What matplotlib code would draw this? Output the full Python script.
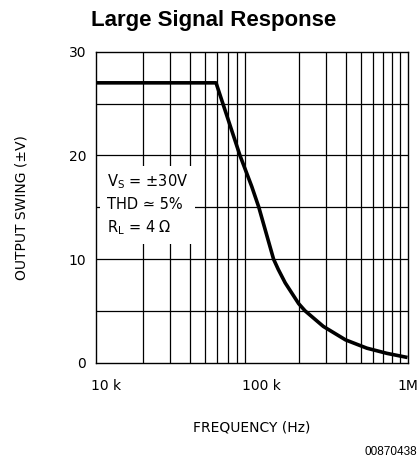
from matplotlib import pyplot as plt
import matplotlib.transforms as mtransforms

# curve
freq = [10e3, 59e3, 84e3, 100e3, 111e3, 138e3, 148e3, 164e3, 200e3, 220e3,
        288e3, 400e3, 548e3, 737e3, 1e6]
swing = [27.0, 27.0, 20.0, 17.0, 15.0, 10.0, 9.0, 7.7, 5.7, 5.0,
         3.5, 2.2, 1.4, 0.9, 0.5]

xticks = [1e4, 1e5, 1e6]
xticklabels = ['10 k', '100 k', '1M']
yticks = [0, 10, 20, 30]
ygrid = [5, 10, 15, 20, 25]

fig = plt.figure(figsize=(4.19, 4.62), dpi=100)
ax = fig.add_axes([0.229, 0.215, 0.7436, 0.673])

ax.set_xscale('log')
ax.set_xlim(1e4, 1e6)
ax.set_ylim(0, 30)

# grid: every minor decade line and every 5 V
minors = [m * 10**d for d in (4, 5) for m in range(2, 10)]
for f in minors:
    ax.axvline(f, color='black', lw=0.9, zorder=1)
for v in ygrid:
    ax.axhline(v, color='black', lw=0.9, zorder=1)

ax.plot(freq, swing, color='black', lw=2.6, solid_capstyle='butt', zorder=3)

for s in ax.spines.values():
    s.set_linewidth(1.0)

ax.set_xticks(xticks)
ax.set_xticklabels([])
ax.minorticks_off()
ax.set_yticks(yticks)
ax.tick_params(which='both', length=0, labelsize=10)
ax.tick_params(axis='y', pad=7)

# x tick labels sit a bit right of their grid line in the original
trans = mtransforms.blended_transform_factory(ax.transData, ax.transAxes)
shift = mtransforms.ScaledTranslation(7 / 72, 0, fig.dpi_scale_trans)
for f, lab in zip(xticks, xticklabels):
    t = trans + shift if f < 1e6 else trans
    ax.text(f, -0.075, lab, transform=t, ha='center', va='center', fontsize=10)

ax.set_xlabel('FREQUENCY (Hz)', fontsize=10, labelpad=38)
ax.set_ylabel('OUTPUT SWING (±V)', fontsize=10, labelpad=29)

fig.text(0.51, 0.955, 'Large Signal Response', fontsize=16, fontweight='bold',
         family='Liberation Sans', ha='center', va='center')

ax.text(0.035, 0.405,
        r'$\mathregular{V_S}$ = ±30V' + '\n' + 'THD ≃ 5%' + '\n' + r'$\mathregular{R_L}$ = 4 Ω',
        transform=ax.transAxes, fontsize=10.5, va='bottom', ha='left',
        linespacing=1.45, zorder=2,
        bbox=dict(facecolor='white', edgecolor='none', pad=5))

fig.text(0.995, 0.022, '00870438', ha='right', va='center', fontsize=8.5,
         family='Liberation Sans')

fig.savefig('out.png', dpi=100)
